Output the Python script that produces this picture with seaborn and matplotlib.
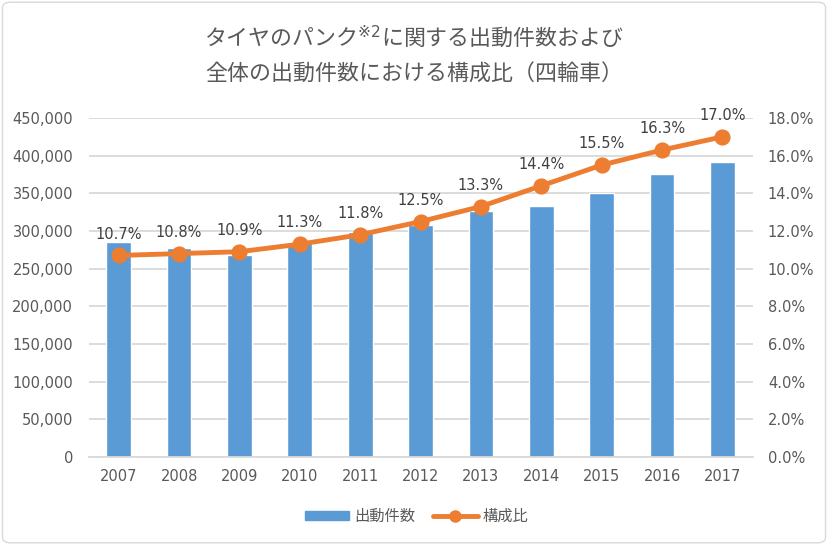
import matplotlib
matplotlib.use("Agg")
import matplotlib.pyplot as plt
import matplotlib.patches as mpatches
from matplotlib.lines import Line2D
from matplotlib.ticker import FuncFormatter
import seaborn as sns
import pandas as pd

YEARS = ["2007", "2008", "2009", "2010", "2011", "2012",
         "2013", "2014", "2015", "2016", "2017"]
COUNTS = [286000, 277000, 268000, 286000, 298000, 308000,
          326000, 333000, 351000, 375000, 391000]
RATIOS = [10.7, 10.8, 10.9, 11.3, 11.8, 12.5, 13.3, 14.4, 15.5, 16.3, 17.0]

TITLE = "タイヤのパンク$^{※2}$に関する出動件数および\n全体の出動件数における構成比（四輪車）"
BAR_LABEL = "出動件数"
LINE_LABEL = "構成比"

BLUE = "#5B9BD5"
ORANGE = "#ED7D31"
TEXT = "#595959"
GRID = "#D9D9D9"
JP = ["Noto Sans CJK JP", "DejaVu Sans"]

sns.set_theme(style="white")
plt.rcParams["font.family"] = ["DejaVu Sans", "Noto Sans CJK JP"]

df = pd.DataFrame({"year": YEARS, "count": COUNTS, "ratio": RATIOS})

fig = plt.figure(figsize=(8.28, 5.45), dpi=100)
ax = fig.add_axes([0.1069, 0.1615, 0.802, 0.622])

sns.barplot(data=df, x="year", y="count", color=BLUE, width=0.41,
            saturation=1, ax=ax)
ax.set_ylim(0, 450000)
ax.set_yticks(range(0, 450001, 50000))
ax.yaxis.set_major_formatter(FuncFormatter(lambda v, p: f"{int(v):,}"))
ax.grid(axis="y", color=GRID, linewidth=1.3)
ax.set_axisbelow(True)
ax.set_xlabel("")
ax.set_ylabel("")
for s in ["top", "right", "left"]:
    ax.spines[s].set_visible(False)
ax.spines["bottom"].set_color(GRID)
ax.spines["bottom"].set_linewidth(1.3)
ax.tick_params(axis="both", colors=TEXT, labelsize=10.5, length=0)
ax.tick_params(axis="y", pad=11)
ax.tick_params(axis="x", pad=9)
ax.set_xticks([i - 0.5 for i in range(len(YEARS) + 1)], minor=True)
ax.tick_params(axis="x", which="minor", length=5, width=1.3, color=GRID)

ax2 = ax.twinx()
sns.pointplot(data=df, x="year", y="ratio", color=ORANGE, markers="o",
              markersize=9, linewidth=3.5, ax=ax2)
ax2.set_ylim(0, 18)
ax2.set_yticks(range(0, 19, 2))
ax2.yaxis.set_major_formatter(FuncFormatter(lambda v, p: f"{v:.1f}%"))
ax2.set_ylabel("")
ax2.set_xlabel("")
for s in ["top", "right", "left", "bottom"]:
    ax2.spines[s].set_visible(False)
ax2.tick_params(axis="y", colors=TEXT, labelsize=10.5, length=0, pad=11)
ax2.set_xlim(-0.5, len(YEARS) - 0.5)

for i, r in enumerate(RATIOS):
    ax2.annotate(f"{r:.1f}%", (i, r), xytext=(0, 10), textcoords="offset points",
                 ha="center", va="bottom", fontsize=10.5, color="#404040")

fig.text(0.5, 0.9, TITLE, ha="center", va="center", fontsize=15.8,
         color=TEXT, linespacing=1.85, family=JP)

handles = [mpatches.Patch(color=BLUE, label=BAR_LABEL),
           Line2D([0], [0], color=ORANGE, lw=3.5, marker="o", markersize=8,
                  label=LINE_LABEL)]
leg = fig.legend(handles=handles, loc="center", bbox_to_anchor=(0.503, 0.052),
                 ncol=2, frameon=False, handlelength=2.9,
                 handleheight=0.5, columnspacing=1.2, handletextpad=0.3,
                 prop={"family": JP, "size": 11})
for t in leg.get_texts():
    t.set_color(TEXT)

fig.patches.append(mpatches.FancyBboxPatch(
    (0.003, 0.004), 0.994, 0.992, boxstyle="round,pad=0,rounding_size=0.01",
    transform=fig.transFigure, fill=False, edgecolor=GRID, linewidth=1))

fig.savefig("out.png", dpi=100)
